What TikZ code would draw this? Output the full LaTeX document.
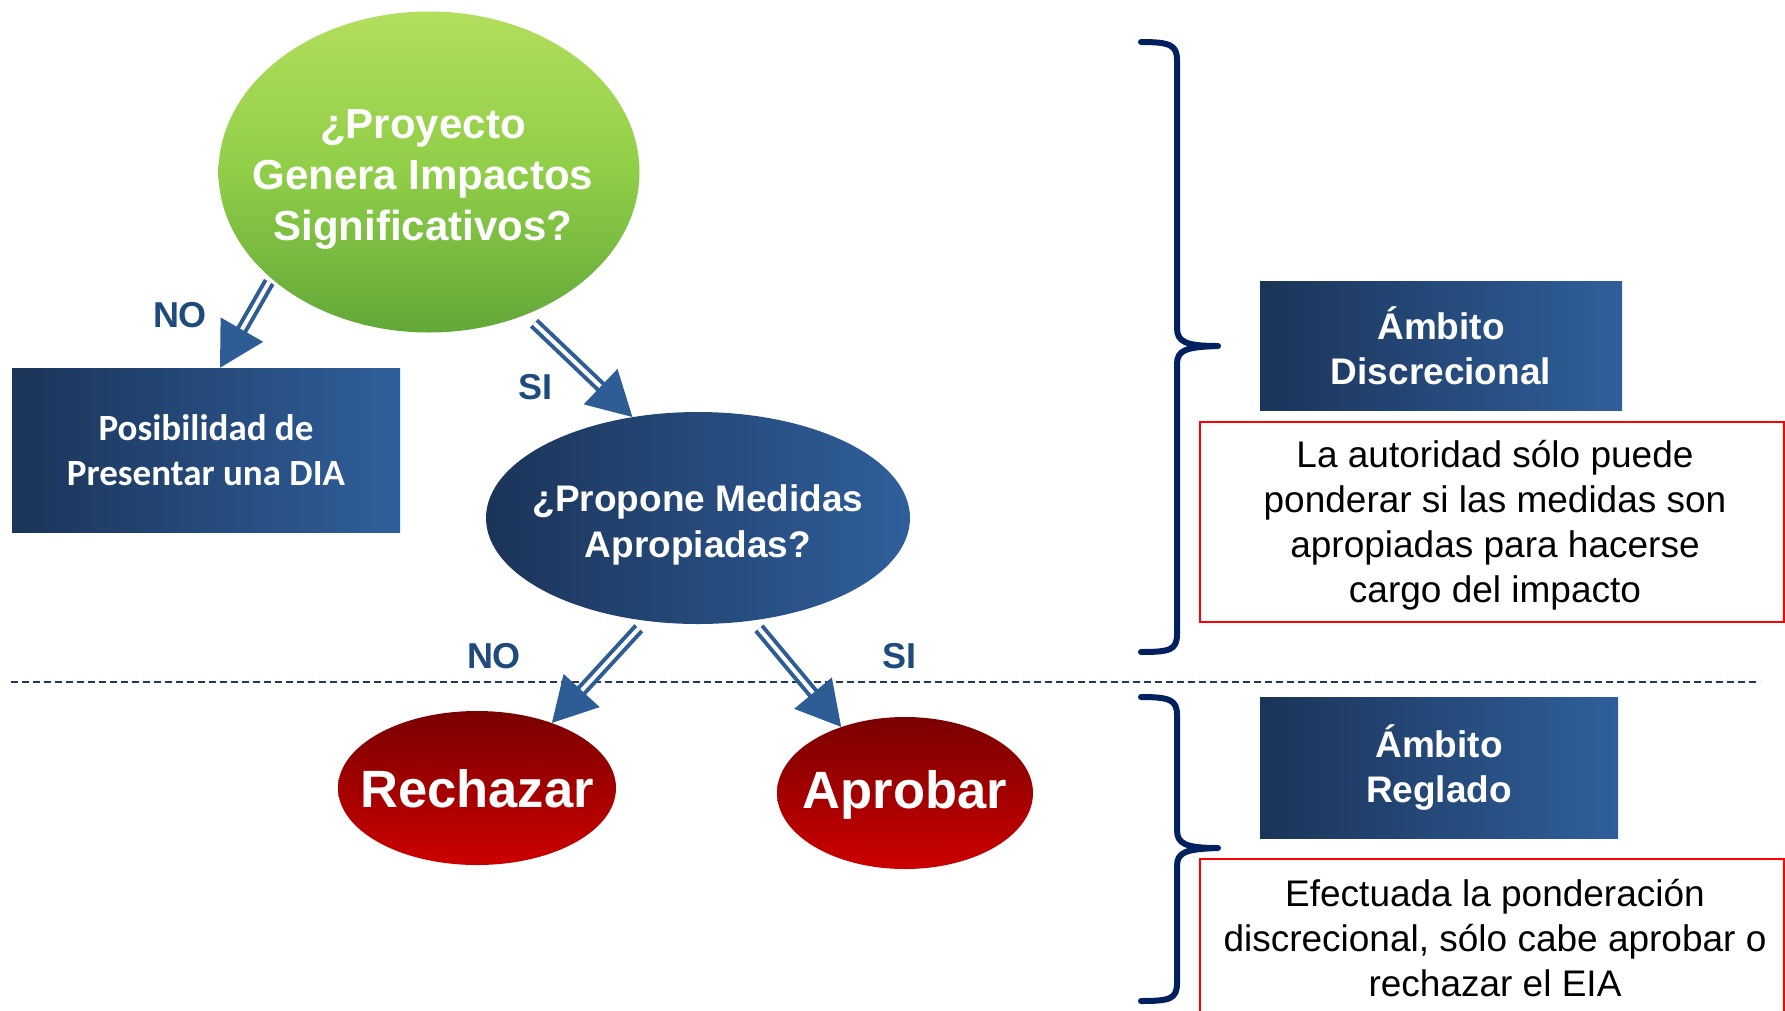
\documentclass[tikz,border=0pt]{standalone}
\usepackage{fontspec}
\setmainfont{Liberation Sans}
\newfontfamily\calibrifont{Carlito}
\usetikzlibrary{shapes.geometric,arrows.meta}
\definecolor{navy}{HTML}{002060}
\definecolor{arrowc}{HTML}{2E5C94}
\definecolor{labelc}{HTML}{1F4A7C}
\definecolor{boxdark}{HTML}{1B3459}
\definecolor{boxlight}{HTML}{2F5F9B}
\definecolor{greenlight}{HTML}{B2DE5C}
\definecolor{greenmid}{HTML}{90CE48}
\definecolor{greendark}{HTML}{62A838}
\definecolor{reddark}{HTML}{7A0000}
\definecolor{redlight}{HTML}{CC0000}
\definecolor{sepc}{HTML}{1F3864}
\begin{document}
\begin{tikzpicture}[x=1pt,y=-1pt,
  gradbox/.style={rectangle, inner sep=0pt, left color=boxdark, right color=boxlight, text=white, align=center, font=\fontsize{37}{45}\selectfont\bfseries},
  ell/.style={ellipse, inner sep=0pt},
  elltxt/.style={text=white, align=center, inner sep=0pt},
  arr/.style={draw=arrowc, line width=4pt, double=white, double distance=4pt, -{Triangle[length=44pt,width=48pt]}},
  lbl/.style={text=labelc, font=\fontsize{36}{40}\selectfont\bfseries},
  redbox/.style={draw=red, line width=1.8pt},
  redtxt/.style={align=center, text=black, font=\fontsize{37}{45}\selectfont},
  bracec/.style={draw=navy, line width=6pt, line cap=round, line join=round}
]
\useasboundingbox (0,0) rectangle (1785,1010);

% ellipses
\node[ell, minimum width=421pt, minimum height=321pt, top color=greenlight, bottom color=greendark, middle color=greenmid] (g) at (429,172) {};
\node[elltxt, font=\fontsize{42}{51}\selectfont\bfseries] (gt) at (423,179) {¿Proyecto\\Genera Impactos\\Significativos?};
\node[ell, minimum width=424pt, minimum height=212pt, left color=boxdark, right color=boxlight] (b) at (698,518) {};
\node[elltxt, font=\fontsize{37}{46}\selectfont\bfseries] (bt) at (698,525) {¿Propone Medidas\\Apropiadas?};
\node[ell, minimum width=278pt, minimum height=154pt, top color=reddark, bottom color=redlight] (rz) at (477,788) {};
\node[elltxt, font=\fontsize{52.5}{60}\selectfont\bfseries] (rzt) at (477,789) {Rechazar};
\node[ell, minimum width=256pt, minimum height=152pt, top color=reddark, bottom color=redlight] (ap) at (905,793) {};
\node[elltxt, font=\fontsize{52.5}{60}\selectfont\bfseries] (apt) at (905,795) {Aprobar};

% boxes
\node[gradbox, minimum width=388pt, minimum height=164pt, font=\calibrifont\fontsize{37}{45}\selectfont\bfseries] (p) at (206,450) {Posibilidad de\\Presentar una DIA};
\node[gradbox, minimum width=362pt, minimum height=129pt] (d1) at (1441,345.5) {Ámbito\\Discrecional};
\node[gradbox, minimum width=358pt, minimum height=141pt] (d2) at (1439,767.5) {Ámbito\\Reglado};

% red boxes
\draw[redbox] (1200,422) rectangle (1784,622);
\node[redtxt] (t1) at (1495,525) {La autoridad sólo puede\\ponderar si las medidas son\\apropiadas para hacerse\\cargo del impacto};
\draw[redbox] (1200,1012) -- (1200,859) -- (1784,859) -- (1784,1012);
\node[redtxt] (t2) at (1495,938) {Efectuada la ponderación\\discrecional, sólo cabe aprobar o\\rechazar el EIA};

% separator
\draw[sepc, line width=1.6pt, dash pattern=on 7pt off 4pt] (11,682) -- (1760,682);

% arrows
\draw[arr, shorten <=4pt] (g.214) -- ([xshift=14pt]p.north);
\draw[arr, shorten <=12pt] (g.304) -- (b.123);
\draw[arr, shorten <=10pt] (b.243) -- (rz.41);
\draw[arr, shorten <=10pt] (b.298) -- (ap.134);

% labels
\node[lbl] (no1) at (180,315) {NO};
\node[lbl] (si1) at (535,387) {SI};
\node[lbl] (no2) at (494,656) {NO};
\node[lbl] (si2) at (899,656) {SI};

% braces
\draw[bracec] (1141,42) .. controls (1170,42) and (1177,45) .. (1177,60) -- (1177,328)
  .. controls (1177,342) and (1186,346) .. (1218,346)
  .. controls (1186,347) and (1177,350) .. (1177,364) -- (1177,634)
  .. controls (1177,650) and (1170,652) .. (1141,652);
\draw[bracec] (1141,697) .. controls (1170,697) and (1177,700) .. (1177,715) -- (1177,830)
  .. controls (1177,844) and (1186,848) .. (1218,848)
  .. controls (1186,849) and (1177,852) .. (1177,866) -- (1177,983)
  .. controls (1177,999) and (1170,1001) .. (1141,1001);
\end{tikzpicture}
\end{document}
